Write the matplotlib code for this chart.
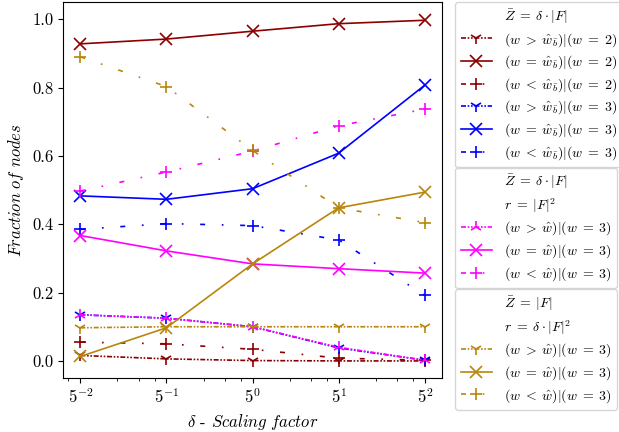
import numpy as np
import matplotlib
matplotlib.use('Agg')
import matplotlib.pyplot as plt
from matplotlib.lines import Line2D

plt.rcParams['mathtext.fontset'] = 'cm'
plt.rcParams['font.family'] = 'serif'
plt.rcParams['font.serif'] = ['cmr10']
plt.rcParams['axes.formatter.use_mathtext'] = True

# scaling factors (delta)
deltas = [5**-2, 5**-1, 5**0, 5**1, 5**2]
xtick_labels = ['$5^{-2}$', '$5^{-1}$', '$5^{0}$', '$5^{1}$', '$5^{2}$']

# Z = delta * |F|, w = 2
red_gt = [0.016, 0.006, 0.001, 0.0, 0.0]
red_eq = [0.928, 0.942, 0.965, 0.987, 0.997]
red_lt = [0.055, 0.050, 0.034, 0.008, 0.002]

# Z = delta * |F|, w = 3
blue_gt = [0.135, 0.125, 0.100, 0.038, 0.002]
blue_eq = [0.483, 0.473, 0.504, 0.608, 0.807]
blue_lt = [0.385, 0.402, 0.396, 0.354, 0.192]

# Z = delta * |F|, r = |F|^2, w = 3
mag_gt = [0.135, 0.125, 0.100, 0.040, 0.002]
mag_eq = [0.367, 0.322, 0.284, 0.270, 0.257]
mag_lt = [0.497, 0.553, 0.614, 0.688, 0.737]

# Z = |F|, r = delta * |F|^2, w = 3
gold_gt = [0.097, 0.100, 0.100, 0.100, 0.100]
gold_eq = [0.013, 0.097, 0.284, 0.448, 0.494]
gold_lt = [0.890, 0.803, 0.616, 0.448, 0.405]

dark_red = '#8b0000'
blue = '#0000ff'
magenta = '#ff00ff'
gold = '#b8860b'

ls_gt = (0, (3, 1, 1, 1, 1, 1))
ls_eq = '-'
ls_lt = (0, (3, 10, 1, 10))

fig = plt.figure(figsize=(6.19, 4.32), dpi=100)
ax = fig.add_axes([0.102, 0.125, 0.612, 0.870])

lw = 1.2
ms = 9
mew = 1.2

def line(y, color, ls, marker, label):
    h, = ax.plot(deltas, y, color=color, linestyle=ls, marker=marker,
                 markersize=ms, markeredgewidth=mew, linewidth=lw, label=label)
    return h

blank = lambda lab: Line2D([], [], color='none', label=lab)

h1 = [blank(r'$\bar{Z}\;=\;\delta \cdot |F|$'),
      line(red_gt, dark_red, ls_gt, '1', r'$(w\;>\;\hat{w}_{\bar{b}})|(w\;=\;2)$'),
      line(red_eq, dark_red, ls_eq, 'x', r'$(w\;=\;\hat{w}_{\bar{b}})|(w\;=\;2)$'),
      line(red_lt, dark_red, ls_lt, '+', r'$(w\;<\;\hat{w}_{\bar{b}})|(w\;=\;2)$'),
      line(blue_gt, blue, ls_gt, '1', r'$(w\;>\;\hat{w}_{\bar{b}})|(w\;=\;3)$'),
      line(blue_eq, blue, ls_eq, 'x', r'$(w\;=\;\hat{w}_{\bar{b}})|(w\;=\;3)$'),
      line(blue_lt, blue, ls_lt, '+', r'$(w\;<\;\hat{w}_{\bar{b}})|(w\;=\;3)$')]

h2 = [blank(r'$\bar{Z}\;=\;\delta \cdot |F|$'),
      blank(r'$r\;=\;|F|^2$'),
      line(mag_gt, magenta, ls_gt, '2', r'$(w\;>\;\hat{w})|(w\;=\;3)$'),
      line(mag_eq, magenta, ls_eq, 'x', r'$(w\;=\;\hat{w})|(w\;=\;3)$'),
      line(mag_lt, magenta, ls_lt, '+', r'$(w\;<\;\hat{w})|(w\;=\;3)$')]

h3 = [blank(r'$\bar{Z}\;=\;|F|$'),
      blank(r'$r\;=\;\delta \cdot |F|^2$'),
      line(gold_gt, gold, ls_gt, '1', r'$(w\;>\;\hat{w})|(w\;=\;3)$'),
      line(gold_eq, gold, ls_eq, 'x', r'$(w\;=\;\hat{w})|(w\;=\;3)$'),
      line(gold_lt, gold, ls_lt, '+', r'$(w\;<\;\hat{w})|(w\;=\;3)$')]

ax.set_xscale('log', base=5)
ax.set_xticks(deltas)
ax.set_xticklabels(xtick_labels)
ax.set_ylim(-0.05, 1.05)
ax.set_yticks([0.0, 0.2, 0.4, 0.6, 0.8, 1.0])
ax.set_yticklabels(['0.0', '0.2', '0.4', '0.6', '0.8', '1.0'])
ax.tick_params(labelsize=12)
ax.set_xlabel(r'$\delta$ - $\mathit{Scaling\ factor}$', fontsize=12)
ax.set_ylabel(r'$\mathit{Fraction\ of\ nodes}$', fontsize=12)

leg_kw = dict(loc='upper left', fontsize=10, handlelength=2.3,
              borderaxespad=0, labelspacing=0.35, borderpad=0.4)
for hs, top in [(h1, 0.995), (h2, 0.612), (h3, 0.330)]:
    leg = fig.legend(handles=hs, bbox_to_anchor=(0.735, top), **leg_kw)

fig.savefig('out.png', dpi=100)
